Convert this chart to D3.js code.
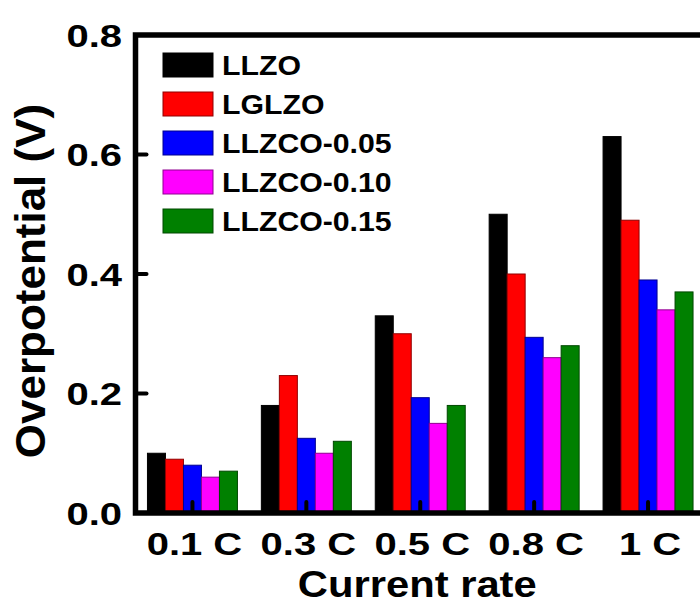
<!DOCTYPE html>
<html>
<head>
<meta charset="utf-8">
<script src="https://cdn.jsdelivr.net/npm/d3@7"></script>
<style>
  html, body { margin: 0; padding: 0; background: #fff; }
  svg text { font-family: "Liberation Sans", Arial, sans-serif; font-weight: bold; fill: #000; }
</style>
</head>
<body>
<svg id="chart" width="700" height="605"></svg>
<script>
const categories = ["0.1 C", "0.3 C", "0.5 C", "0.8 C", "1 C"];
const seriesNames = ["LLZO", "LGLZO", "LLZCO-0.05", "LLZCO-0.10", "LLZCO-0.15"];
const seriesColors = ["#000000", "#ff0000", "#0000ff", "#ff00ff", "#008000"];
const LLZO      = [0.10, 0.18, 0.33, 0.50, 0.63];
const LGLZO     = [0.09, 0.23, 0.30, 0.40, 0.49];
const LLZCO_005 = [0.08, 0.125, 0.193, 0.294, 0.39];
const LLZCO_010 = [0.06, 0.10, 0.15, 0.26, 0.34];
const LLZCO_015 = [0.07, 0.12, 0.18, 0.28, 0.37];
const seriesValues = [LLZO, LGLZO, LLZCO_005, LLZCO_010, LLZCO_015];
const yTicks = [0.0, 0.2, 0.4, 0.6, 0.8];

const svg = d3.select("#chart");
const mLeft = 135.5, mRight = 705, mTop = 35, mBottom = 513;

const x = d3.scaleBand().domain(categories).range([mLeft, mRight]).paddingInner(0.21).paddingOuter(0.105);
const xs = d3.scaleBand().domain(seriesNames).range([0, x.bandwidth()]);
const y = d3.scaleLinear().domain([0, 0.8]).range([mBottom, mTop]);
const color = d3.scaleOrdinal().domain(seriesNames).range(seriesColors);

// bars
const groups = svg.append("g").selectAll("g").data(categories).join("g")
  .attr("transform", d => `translate(${x(d)},0)`);
groups.selectAll("rect")
  .data((c, i) => seriesNames.map((s, j) => ({ s, v: seriesValues[j][i] })))
  .join("rect")
  .attr("x", d => xs(d.s))
  .attr("width", xs.bandwidth())
  .attr("y", d => y(d.v))
  .attr("height", d => mBottom - y(d.v))
  .attr("fill", d => color(d.s))
  .attr("stroke", d => d3.color(color(d.s)).darker(1.6))
  .attr("stroke-width", 1);

// bottom ticks (inward)
svg.append("g").selectAll("line").data(categories).join("line")
  .attr("x1", d => x(d) + x.bandwidth() / 2).attr("x2", d => x(d) + x.bandwidth() / 2)
  .attr("y1", mBottom).attr("y2", mBottom - 11)
  .attr("stroke", "#000").attr("stroke-width", 4).attr("stroke-linecap", "round");

// left ticks (inward)
svg.append("g").selectAll("line").data(yTicks).join("line")
  .attr("x1", mLeft).attr("x2", mLeft + 11)
  .attr("y1", d => y(d)).attr("y2", d => y(d))
  .attr("stroke", "#000").attr("stroke-width", 4).attr("stroke-linecap", "round");

// frame
svg.append("rect").attr("x", mLeft).attr("y", mTop).attr("width", mRight - mLeft).attr("height", mBottom - mTop)
  .attr("fill", "none").attr("stroke", "#000").attr("stroke-width", 5.5);

// y tick labels
svg.append("g").selectAll("g").data(yTicks).join("g")
  .attr("transform", d => `translate(122,${y(d) + 11.5}) scale(1.25,1)`)
  .append("text").attr("text-anchor", "end").attr("font-size", 32)
  .text(d => d3.format(".1f")(d));

// x tick labels
svg.append("g").selectAll("g").data(categories).join("g")
  .attr("transform", d => `translate(${x(d) + x.bandwidth() / 2 + 2},555) scale(1.25,1)`)
  .append("text").attr("text-anchor", "middle").attr("font-size", 32)
  .text(d => d);

// axis titles
svg.append("g").attr("transform", `translate(${(mLeft + mRight) / 2 - 3},597) scale(1.16,1)`)
  .append("text").attr("text-anchor", "middle").attr("font-size", 36).text("Current rate");
svg.append("g").attr("transform", `translate(45,281) scale(0.95,1) rotate(-90)`)
  .append("text").attr("text-anchor", "middle").attr("font-size", 44).text("Overpotential (V)");

// legend
const leg = svg.append("g").selectAll("g").data(seriesNames).join("g")
  .attr("transform", (d, i) => `translate(163,${65 + i * 39})`);
leg.append("rect").attr("x", 0).attr("y", -12).attr("width", 50).attr("height", 24)
  .attr("fill", d => color(d)).attr("stroke", d => d3.color(color(d)).darker(1.6)).attr("stroke-width", 1);
leg.append("g").attr("transform", "translate(59,10) scale(1.08,1)")
  .append("text").attr("font-size", 28).text(d => d);
</script>
</body>
</html>
